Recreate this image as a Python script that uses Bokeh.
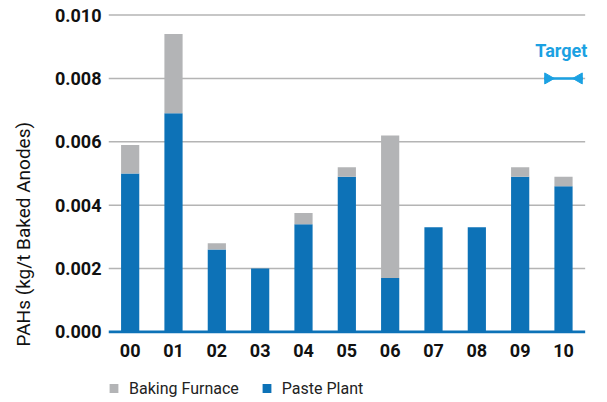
from bokeh.plotting import figure
from bokeh.layouts import column
from bokeh.models import ColumnDataSource, Legend, LegendItem, Range1d, Title
from bokeh.core.properties import value
from bokeh.embed import file_html
from bokeh.resources import INLINE
import math

# PAH emissions per tonne of baked anodes, by year
years = ["00", "01", "02", "03", "04", "05", "06", "07", "08", "09", "10"]
paste_plant = [0.0050, 0.0069, 0.0026, 0.0020, 0.0034, 0.0049, 0.0017, 0.0033, 0.0033, 0.0049, 0.0046]
baking_furnace = [0.0009, 0.0025, 0.0002, 0.0000, 0.00035, 0.0003, 0.0045, 0.0000, 0.0000, 0.0003, 0.0003]
y_ticks = [0.0, 0.002, 0.004, 0.006, 0.008, 0.010]
y_tick_labels = ["0.000", "0.002", "0.004", "0.006", "0.008", "0.010"]
series_names = ["Baking Furnace", "Paste Plant"]
target_value = 0.008
target_year = "10"

BLUE = "#0d72b7"
GREY = "#b3b4b6"
CYAN = "#1ba1e2"
FONT = "Roboto"

pos = list(range(len(years)))
src = ColumnDataSource(dict(x=pos, paste=paste_plant, furnace=baking_furnace))
x_lo, x_hi = -0.5, len(years) - 0.5
tx = years.index(target_year)

p = figure(
    frame_width=494, frame_height=320,
    x_range=Range1d(x_lo, x_hi + 0.4),
    y_range=Range1d(-0.00005, 0.01005),
    output_backend="svg", toolbar_location=None,
    min_border_left=108, min_border_right=5, min_border_top=13, min_border_bottom=40,
)
p.outline_line_color = None
p.background_fill_color = "white"
p.border_fill_color = "white"
p.grid.visible = False

# horizontal gridlines across the category span only
p.segment(x0=[x_lo] * (len(y_ticks) - 1), x1=[x_hi] * (len(y_ticks) - 1),
          y0=y_ticks[1:], y1=y_ticks[1:], line_color="#b4b4b4", line_width=1.5)

r = p.vbar_stack(["paste", "furnace"], x="x", width=0.42, source=src,
                 color=[BLUE, GREY], line_color=None)

# blue baseline
p.segment(x0=[x_lo], x1=[x_hi], y0=[0], y1=[0], line_color=BLUE, line_width=3)

# target marker: short line across the last year with inward-pointing heads
p.segment(x0=[tx - 0.45], y0=[target_value], x1=[tx + 0.45], y1=[target_value],
          line_color=CYAN, line_width=2.5)
p.scatter(x=[tx - 0.36], y=[target_value], marker="triangle", size=11,
          angle=-math.pi / 2, color=CYAN)
p.scatter(x=[tx + 0.36], y=[target_value], marker="triangle", size=11,
          angle=math.pi / 2, color=CYAN)
p.text(x=[tx - 0.05], y=[target_value], text=["Target"], text_align="center",
       text_baseline="bottom", y_offset=-17, text_color=CYAN, text_font=value(FONT),
       text_font_size="18px", text_font_style="bold")

# y axis
p.yaxis.ticker = y_ticks
p.yaxis.major_label_overrides = dict(zip(y_ticks, y_tick_labels))
p.yaxis.axis_line_color = None
p.yaxis.major_tick_line_color = None
p.yaxis.minor_tick_line_color = None
p.yaxis.major_tick_out = 0
p.yaxis.major_label_text_font = FONT
p.yaxis.major_label_text_font_size = "18px"
p.yaxis.major_label_text_font_style = "bold"
p.yaxis.major_label_text_color = "#111111"
p.yaxis.major_label_standoff = 7
# blank axis label keeps a gap between the tick labels and the title
p.yaxis.axis_label = " "
p.yaxis.axis_label_text_font_size = "8px"
p.yaxis.axis_label_standoff = 0

# vertical axis title, set a little low like a column caption
p.add_layout(Title(text="PAHs (kg/t Baked Anodes)", align="left", offset=-13,
                   text_font=FONT, text_font_size="19px", text_font_style="normal",
                   text_color="#111111"), "left")

# x axis with year labels
p.xaxis.ticker = pos
p.xaxis.major_label_overrides = dict(zip(pos, years))
p.xaxis.axis_line_color = None
p.xaxis.major_tick_line_color = None
p.xaxis.minor_tick_line_color = None
p.xaxis.major_tick_out = 0
p.xaxis.major_label_text_font = FONT
p.xaxis.major_label_text_font_size = "18px"
p.xaxis.major_label_text_font_style = "bold"
p.xaxis.major_label_text_color = "#111111"
p.xaxis.major_label_standoff = 10

# legend strip underneath the chart; swatches sit outside the visible range
leg = figure(width=607, height=30, x_range=Range1d(0, 1), y_range=Range1d(0, 1),
             x_axis_type=None, y_axis_type=None, output_backend="svg",
             toolbar_location=None, min_border=0, min_border_left=108)
leg.outline_line_color = None
leg.grid.visible = False
swatch_furnace = leg.vbar(x=[-5], bottom=[-5], top=[-4], width=0.1, color=GREY, line_color=None)
swatch_paste = leg.vbar(x=[-5], bottom=[-5], top=[-4], width=0.1, color=BLUE, line_color=None)
legend = Legend(
    items=[LegendItem(label=series_names[0], renderers=[swatch_furnace]),
           LegendItem(label=series_names[1], renderers=[swatch_paste])],
    orientation="horizontal", location="center_left",
    label_text_font=FONT, label_text_font_size="16px", label_text_color="#222222",
    glyph_width=11, glyph_height=11, spacing=22, label_standoff=10,
    border_line_color=None, background_fill_alpha=0, margin=0, padding=0,
)
leg.add_layout(legend, "center")

open("out.html", "w").write(file_html(column(p, leg), INLINE))
